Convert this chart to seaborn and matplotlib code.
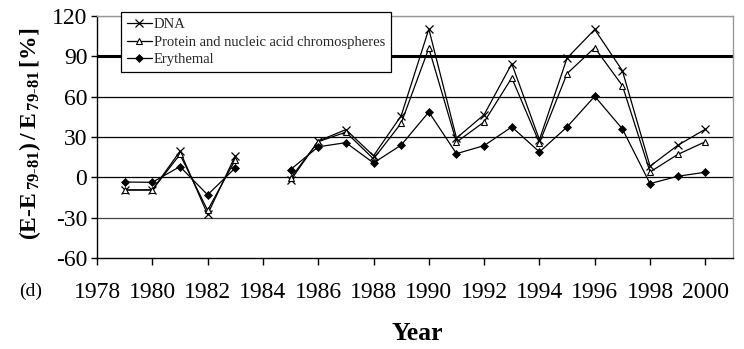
import numpy as np
import pandas as pd
import matplotlib
matplotlib.use("Agg")
import matplotlib.pyplot as plt
import seaborn as sns
from matplotlib.lines import Line2D

years = [1979, 1980, 1981, 1982, 1983, 1984, 1985, 1986, 1987, 1988, 1989,
         1990, 1991, 1992, 1993, 1994, 1995, 1996, 1997, 1998, 1999, 2000]
dna = [-9.4, -9.4, 19.4, -27.5, 16, np.nan, -2.3, 27, 35.5, 16, 45.8,
       110.3, 29.2, 46.6, 84.5, 28, 88.7, 110, 79.3, 8.3, 23.8, 35.8]
protein = [-9.4, -9.4, 17, -24.5, 13, np.nan, -0.5, 26.5, 33.6, 13.7, 40.3,
           96.1, 26.2, 41.2, 74, 25.6, 77.2, 96.4, 68.2, 4, 17, 26.5]
erythemal = [-3.5, -3.7, 8, -13, 7, np.nan, 5.8, 22.7, 25.8, 10.7, 24,
             48.6, 17.6, 23.6, 37.5, 18.9, 37.5, 60.3, 36, -4.7, 0.8, 3.8]
series_names = ["DNA", "Protein and nucleic acid chromospheres", "Erythemal"]
yticks = [-60, -30, 0, 30, 60, 90, 120]
xticks = list(range(1978, 2001, 2))

sns.set_theme(style="white")
plt.rcParams["font.family"] = ["Liberation Serif", "DejaVu Serif"]
plt.rcParams["mathtext.fontset"] = "custom"
plt.rcParams["mathtext.rm"] = "Liberation Serif"
plt.rcParams["mathtext.bf"] = "Liberation Serif:bold"
plt.rcParams["axes.unicode_minus"] = False

rows = []
for name, vals in zip(series_names, [dna, protein, erythemal]):
    seg = 0
    for y, v in zip(years, vals):
        if np.isnan(v):
            seg += 1
            continue
        rows.append({"series": name, "year": y, "value": v, "segment": seg})
df = pd.DataFrame(rows)

styles = {
    "DNA": dict(marker="x", markersize=5.5, markerfacecolor="black",
                markeredgecolor="black", markeredgewidth=0.9),
    "Protein and nucleic acid chromospheres": dict(marker="^", markersize=5,
                markerfacecolor="white", markeredgecolor="black", markeredgewidth=0.8),
    "Erythemal": dict(marker="D", markersize=4, markerfacecolor="black",
                      markeredgecolor="black", markeredgewidth=0.5),
}

fig = plt.figure(figsize=(7.44, 3.49), dpi=100)
ax = fig.add_axes([97/744, 1-258/349, 636/744, 242/349])

for name in series_names:
    sub = df[df.series == name]
    for seg, g in sub.groupby("segment"):
        sns.lineplot(data=g, x="year", y="value", ax=ax, color="black",
                     linewidth=0.9, estimator=None, sort=True, **styles[name])

ax.set_xlim(1978, 2001)
ax.set_ylim(-60, 120)
ax.set_yticks(yticks)
ax.set_yticklabels([str(t) for t in yticks])
ax.set_xticks(xticks)
ax.set_xticklabels([str(t) for t in xticks])
ax.set_xlabel("")
ax.set_ylabel("")

ax.yaxis.grid(True, color="black", linewidth=0.9)
ax.set_axisbelow(True)
gl = ax.get_ygridlines()
for t, line in zip(yticks, gl):
    if t == 90:
        line.set_linewidth(2.2)
    elif t == 120:
        line.set_color("#999999")
    elif t == -60:
        line.set_visible(False)
    elif t == -30:
        line.set_color("#444444")

for s in ["left", "bottom"]:
    ax.spines[s].set_color("black")
    ax.spines[s].set_linewidth(1.0)
for s in ["top", "right"]:
    ax.spines[s].set_color("#999999")
    ax.spines[s].set_linewidth(1.0)

ax.tick_params(axis="y", direction="out", length=4, width=1, colors="black",
               pad=3, labelsize=17, left=True)
ax.tick_params(axis="x", direction="out", length=5, width=1, colors="black",
               pad=12.5, labelsize=17, bottom=True)

handles = [Line2D([0], [0], color="black", linewidth=0.9, **styles[n]) for n in series_names]
leg = ax.legend(handles, series_names, loc="upper left",
                bbox_to_anchor=(121/744, 1-12/349), bbox_transform=fig.transFigure,
                fontsize=10.5, frameon=True, fancybox=False, framealpha=1,
                edgecolor="black", handlelength=1.7, handletextpad=0.15,
                labelspacing=0.3, borderpad=0.4, borderaxespad=0)
leg.get_frame().set_linewidth(0.9)

fig.text(30/744, 1-134/349,
         r"$\mathbf{(E\text{-}E_{\,79\text{-}81})\,/\,E_{\,79\text{-}81}\,[\%]}$",
         rotation=90, ha="center", va="center", fontsize=17, color="black")
fig.text(417/744, 1-334/349, "Year", ha="center", va="center",
         fontsize=18.5, fontweight="bold", color="black")
fig.text(31/744, 1-291/349, "(d)", ha="center", va="center",
         fontsize=14, color="black")

fig.savefig("out.png", dpi=100)
